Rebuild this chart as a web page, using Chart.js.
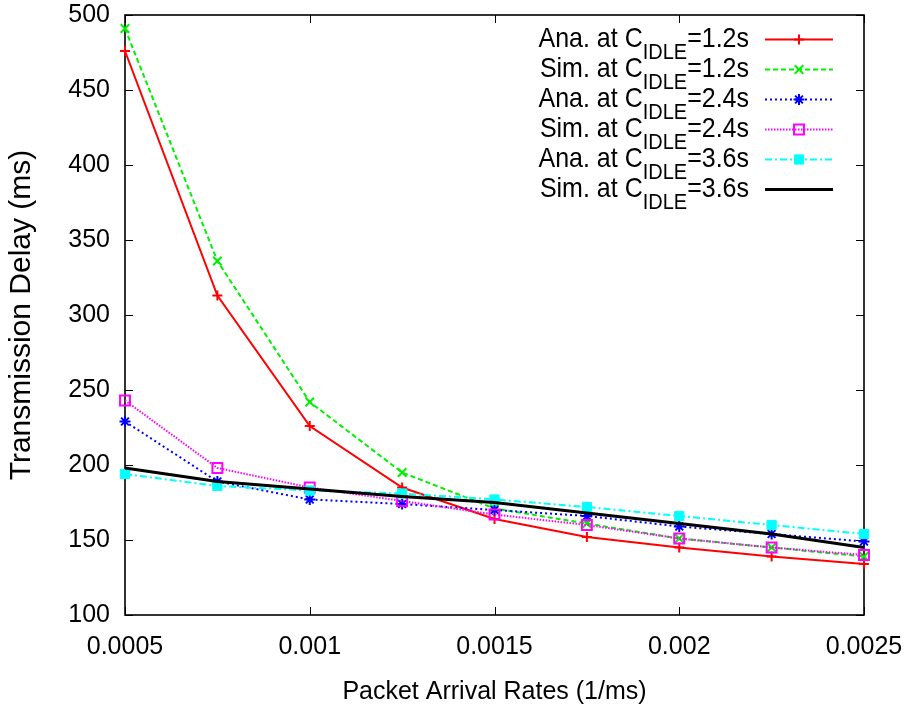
<!DOCTYPE html>
<html>
<head>
<meta charset="utf-8">
<script src="https://cdn.jsdelivr.net/npm/chart.js@4/dist/chart.umd.min.js"></script>
<style>
html,body{margin:0;padding:0;background:#fff;}
#wrap{width:909px;height:710px;}
canvas{display:block;}
</style>
</head>
<body>
<div id="wrap"><canvas id="c" width="909" height="710"></canvas></div>
<script>
// ---- data ----
const arrivalRates = [0.0005, 0.00075, 0.001, 0.00125, 0.0015, 0.00175, 0.002, 0.00225, 0.0025];
const anaIdle12 = [476, 313, 226, 185, 164, 152, 145, 139, 134];
const simIdle12 = [491, 336, 242, 195, 171, 161, 151, 145, 139];
const anaIdle24 = [229, 189, 177, 174, 170, 166, 159, 154, 149];
const simIdle24 = [243, 198, 185, 176, 167, 160, 151, 145, 140];
const anaIdle36 = [194, 186, 183, 181, 177, 172, 166, 160, 154];
const simIdle36 = [198, 189, 184, 179, 175, 168, 161, 154, 145];

const seriesKind = ['Ana.', 'Sim.', 'Ana.', 'Sim.', 'Ana.', 'Sim.'];
const seriesIdle = ['1.2s', '1.2s', '2.4s', '2.4s', '3.6s', '3.6s'];

const xTickValues = [0.0005, 0.001, 0.0015, 0.002, 0.0025];
const xTickLabels = ['0.0005', '0.001', '0.0015', '0.002', '0.0025'];
const yTickValues = [100, 150, 200, 250, 300, 350, 400, 450, 500];
const yTickLabels = ['100', '150', '200', '250', '300', '350', '400', '450', '500'];

const xTitle = 'Packet Arrival Rates (1/ms)';
const yTitle = 'Transmission Delay (ms)';

const FONT = '"Liberation Sans", Arial, Helvetica, sans-serif';

function pts(vals) { return arrivalRates.map((x, i) => ({ x: x, y: vals[i] })); }

const seriesValues = [anaIdle12, simIdle12, anaIdle24, simIdle24, anaIdle36, simIdle36];
const seriesStyles = [
  { color: '#ff0000', width: 2, dash: [], point: 'cross', r: 5, pbw: 2, bg: '#ff0000' },
  { color: '#00f000', width: 2, dash: [5, 3], point: 'crossRot', r: 6, pbw: 2, bg: '#00f000' },
  { color: '#0000ff', width: 2, dash: [2, 3], point: 'star', r: 5.5, pbw: 2, bg: '#0000ff' },
  { color: '#ff00ff', width: 2, dash: [1.5, 1.5], point: 'rect', r: 7, pbw: 2, bg: 'rgba(0,0,0,0)' },
  { color: '#00ffff', width: 2, dash: [7, 3, 2, 3], point: 'rect', r: 6.5, pbw: 1, bg: '#00ffff' },
  { color: '#000000', width: 3, dash: [], point: false, r: 0, pbw: 0, bg: '#000000' }
];

const datasets = seriesValues.map((vals, i) => {
  const s = seriesStyles[i];
  return {
    label: seriesKind[i] + ' at C_IDLE=' + seriesIdle[i],
    data: pts(vals),
    borderColor: s.color,
    backgroundColor: s.bg,
    borderWidth: s.width,
    borderDash: s.dash,
    pointStyle: s.point,
    pointRadius: s.r,
    pointHoverRadius: s.r,
    pointBorderWidth: s.pbw,
    pointBorderColor: s.color,
    pointBackgroundColor: s.bg,
    fill: false,
    tension: 0,
    clip: false,
    order: seriesValues.length - 1 - i
  };
});

// frame with inward mirrored ticks (gnuplot style)
const framePlugin = {
  id: 'framePlugin',
  beforeDatasetsDraw(chart) {
    const { ctx, chartArea: a, scales } = chart;
    const xs = scales.x, ys = scales.y;
    ctx.save();
    ctx.strokeStyle = '#000';
    ctx.lineWidth = 1;
    ctx.beginPath();
    xTickValues.forEach(v => {
      const px = Math.round(xs.getPixelForValue(v)) + 0.5;
      ctx.moveTo(px, a.bottom); ctx.lineTo(px, a.bottom - 8);
      ctx.moveTo(px, a.top); ctx.lineTo(px, a.top + 8);
    });
    yTickValues.forEach(v => {
      const py = Math.round(ys.getPixelForValue(v)) + 0.5;
      ctx.moveTo(a.left, py); ctx.lineTo(a.left + 8, py);
      ctx.moveTo(a.right, py); ctx.lineTo(a.right - 8, py);
    });
    ctx.stroke();
    ctx.lineWidth = 1.6;
    ctx.strokeRect(a.left, a.top, a.right - a.left, a.bottom - a.top);
    ctx.restore();
  }
};

// gnuplot-like key: right aligned text with subscript, sample to the right
const keyPlugin = {
  id: 'keyPlugin',
  afterDatasetsDraw(chart) {
    const { ctx, chartArea: a } = chart;
    const textRight = a.right - 115;
    const sx0 = a.right - 99, sx1 = a.right - 31, sxm = (sx0 + sx1) / 2;
    const vScale = 1.12;
    chart.data.datasets.forEach((ds, i) => {
      const yLine = a.top + 24.5 + 30 * i;
      const base = a.top + 31.5 + 30 * i;
      const main = seriesKind[i] + ' at C';
      const sub = 'IDLE';
      const tail = '=' + seriesIdle[i];
      ctx.save();
      ctx.fillStyle = '#000';
      ctx.textBaseline = 'alphabetic';
      ctx.textAlign = 'left';
      ctx.font = '25px ' + FONT;
      const w1 = ctx.measureText(main).width;
      const w3 = ctx.measureText(tail).width;
      ctx.font = '20px ' + FONT;
      const w2 = ctx.measureText(sub).width;
      let x0 = textRight - (w1 + w2 + w3);
      const put = (txt, font, x, y) => {
        ctx.save();
        ctx.font = font;
        ctx.translate(x, y);
        ctx.scale(1, vScale);
        ctx.fillText(txt, 0, 0);
        ctx.restore();
      };
      put(main, '25px ' + FONT, x0, base);
      put(sub, '20px ' + FONT, x0 + w1, base + 12);
      put(tail, '25px ' + FONT, x0 + w1 + w2, base);
      ctx.restore();

      // sample line
      ctx.save();
      ctx.strokeStyle = ds.borderColor;
      ctx.lineWidth = ds.borderWidth;
      ctx.setLineDash(ds.borderDash || []);
      ctx.beginPath();
      ctx.moveTo(sx0, yLine); ctx.lineTo(sx1, yLine);
      ctx.stroke();
      ctx.setLineDash([]);
      if (ds.pointStyle && ds.pointRadius > 0 && Chart.helpers && Chart.helpers.drawPoint) {
        ctx.strokeStyle = ds.pointBorderColor;
        ctx.fillStyle = ds.pointBackgroundColor;
        ctx.lineWidth = ds.pointBorderWidth;
        Chart.helpers.drawPoint(ctx, {
          pointStyle: ds.pointStyle, rotation: 0,
          radius: ds.pointRadius, borderWidth: ds.pointBorderWidth
        }, sxm, yLine);
      }
      ctx.restore();
    });
  }
};

new Chart(document.getElementById('c'), {
  type: 'line',
  data: { datasets: datasets },
  options: {
    responsive: false,
    animation: false,
    devicePixelRatio: 1,
    layout: { padding: { top: 15, right: 45, left: 0, bottom: 0 } },
    plugins: { legend: { display: false }, tooltip: { enabled: false } },
    scales: {
      x: {
        type: 'linear',
        min: 0.0005,
        max: 0.0025,
        offset: false,
        border: { display: false },
        grid: { display: false, drawTicks: false },
        afterBuildTicks: (scale) => { scale.ticks = xTickValues.map(v => ({ value: v })); },
        afterFit: (scale) => { scale.height = 95; scale.paddingLeft = 0; scale.paddingRight = 0; scale.paddingTop = 0; scale.paddingBottom = 0; },
        ticks: {
          autoSkip: false,
          maxRotation: 0,
          padding: 17,
          color: '#000',
          font: { family: FONT, size: 25 },
          callback: (v) => { const k = xTickValues.findIndex(t => Math.abs(t - v) < 1e-9); return k >= 0 ? xTickLabels[k] : ''; }
        },
        title: {
          display: true,
          text: xTitle,
          color: '#000',
          font: { family: FONT, size: 25 },
          padding: { top: 0, bottom: 3 }
        }
      },
      y: {
        type: 'linear',
        min: 100,
        max: 500,
        border: { display: false },
        grid: { display: false, drawTicks: false },
        afterBuildTicks: (scale) => { scale.ticks = yTickValues.map(v => ({ value: v })); },
        afterFit: (scale) => { scale.width = 125; scale.paddingLeft = 0; scale.paddingRight = 0; scale.paddingTop = 0; scale.paddingBottom = 0; },
        ticks: {
          autoSkip: false,
          padding: 15,
          color: '#000',
          font: { family: FONT, size: 25 },
          callback: (v) => { const k = yTickValues.indexOf(v); return k >= 0 ? yTickLabels[k] : ''; }
        },
        title: {
          display: true,
          text: yTitle,
          color: '#000',
          font: { family: FONT, size: 30 },
          padding: { top: 4, bottom: 0 }
        }
      }
    }
  },
  plugins: [framePlugin, keyPlugin]
});
</script>
</body>
</html>
